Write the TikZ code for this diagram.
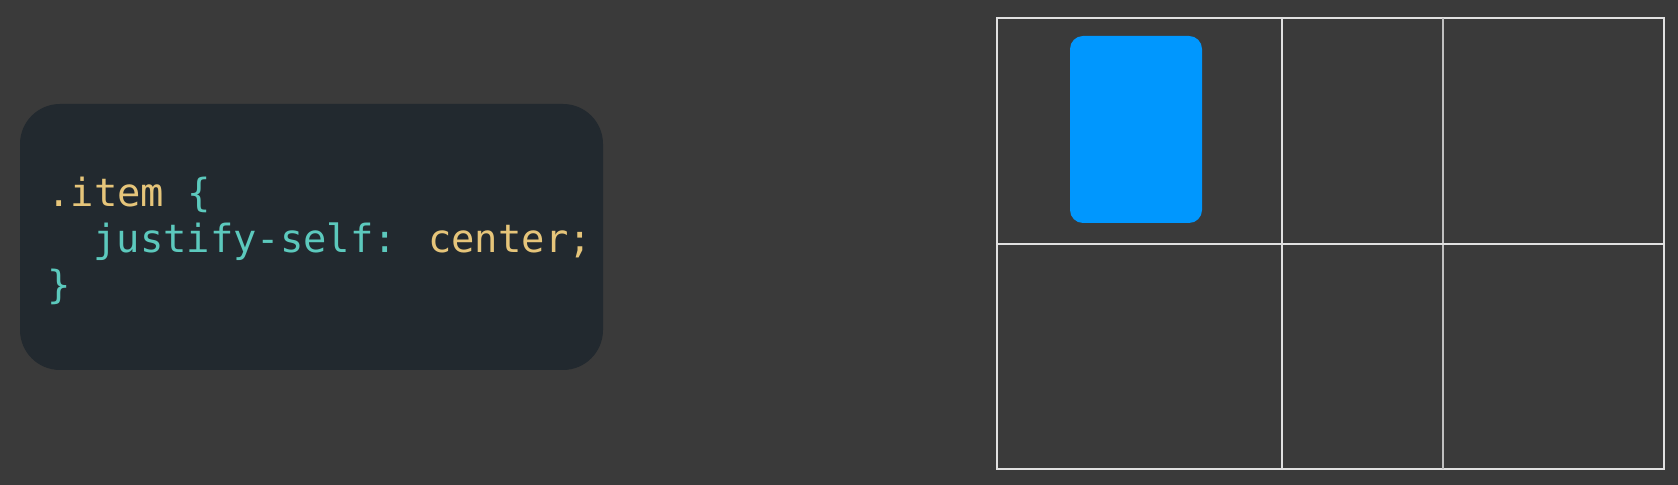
\documentclass[tikz,border=0pt]{standalone}
\usepackage{fontspec}
\newfontfamily\codefont{DejaVu Sans Mono}
\usetikzlibrary{positioning}

\definecolor{slidebg}{HTML}{3A3A3A}
\definecolor{codebg}{HTML}{22292F}
\definecolor{codegold}{HTML}{E6C57A}
\definecolor{codeteal}{HTML}{5CC9BD}
\definecolor{itemblue}{HTML}{0097FE}

\tikzset{
  codeline/.style={anchor=base west, inner sep=0pt,
                   font=\codefont\fontsize{19.4pt}{23pt}\selectfont},
  gridline/.style={draw=white!88!black, line width=1pt},
}

\begin{document}
\begin{tikzpicture}[x=0.5pt,y=-0.5pt]
    % slide background
    \fill[slidebg] (0,0) rectangle (1678,485);
    \useasboundingbox (0,0) rectangle (1678,485);

    \begin{scope}
      % code panel
      \fill[codebg, rounded corners=20pt] (20,104) rectangle (603,370);

      % Line 1: selector
      \node[codeline] (selector) at (47,207) {\color{codegold}.item \color{codeteal}\{};

      % Line 2: declaration
      \node[codeline, text=codeteal] (decl) at (93,253) {justify-self: \color{codegold}center;};

      % Line 3: closing brace
      \node[codeline, text=codeteal] (closing) at (47,299) {\}};
    \end{scope}

    \begin{scope}
      % item placed in the first cell
      \fill[itemblue, rounded corners=6.5pt] (1070,36) rectangle (1202,223);

      % grid tracks
      \draw[gridline] (997,18) rectangle (1664,469);
      \draw[gridline] (1282,18) -- (1282,469);
      \draw[gridline, draw=white!75!black] (1443,18) -- (1443,469);
      \draw[gridline] (997,244) -- (1664,244);
    \end{scope}
\end{tikzpicture}
\end{document}
